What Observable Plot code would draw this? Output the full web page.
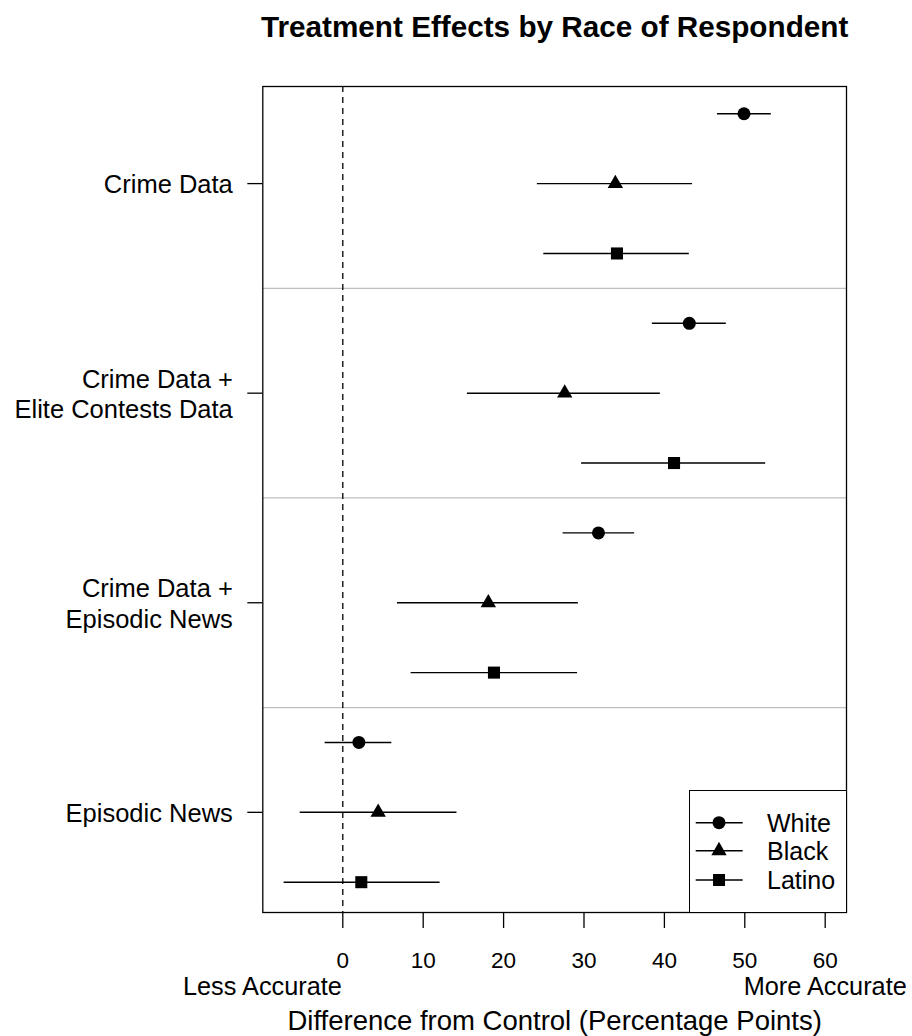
<!DOCTYPE html>
<html>
<head>
<meta charset="utf-8">
<script src="https://cdn.jsdelivr.net/npm/d3@7"></script>
<script src="https://cdn.jsdelivr.net/npm/@observablehq/plot@0.6"></script>
<style>
  html, body { margin: 0; padding: 0; background: #fff; }
  #wrap { position: relative; width: 912px; height: 1036px; font-family: "Liberation Sans", Arial, Helvetica, sans-serif; }
  #legend { position: absolute; box-sizing: border-box; background: #fff; border: 1.3px solid #000; }
</style>
</head>
<body>
<div id="wrap"></div>
<script>
// ---- data ----
const groups = ["Crime Data", "Crime Data +\nElite Contests Data", "Crime Data +\nEpisodic News", "Episodic News"];
const races = ["White", "Black", "Latino"];
const raceSymbols = ["circle", "triangle", "square"];
const whiteEst = [49.9, 43.1, 31.8, 2.0];
const whiteLo  = [46.6, 38.5, 27.4, -2.2];
const whiteHi  = [53.3, 47.7, 36.3, 6.1];
const blackEst = [33.9, 27.6, 18.1, 4.4];
const blackLo  = [24.2, 15.5, 6.8, -5.3];
const blackHi  = [43.5, 39.5, 29.3, 14.2];
const latinoEst = [34.1, 41.2, 18.8, 2.3];
const latinoLo  = [25.0, 29.7, 8.5, -7.3];
const latinoHi  = [43.1, 52.6, 29.2, 12.1];
const xTicks = [0, 10, 20, 30, 40, 50, 60];
const accuracyLabels = ["Less Accurate", "More Accurate"];
const accuracyAt = [-10, 60];
const title = "Treatment Effects by Race of Respondent";
const xLabel = "Difference from Control (Percentage Points)";

// ---- build rows ----
const est = [whiteEst, blackEst, latinoEst];
const lo = [whiteLo, blackLo, latinoLo];
const hi = [whiteHi, blackHi, latinoHi];
const rows = [];
groups.forEach((g, gi) => {
  races.forEach((r, ri) => {
    rows.push({group: g, race: r, symbol: raceSymbols[ri], pos: gi * 3 + ri + 1,
               est: est[ri][gi], lo: lo[ri][gi], hi: hi[ri][gi]});
  });
});
const groupPos = groups.map((g, gi) => gi * 3 + 2);
const separators = groups.slice(1).map((g, i) => (i + 1) * 3 + 0.5);
const symR = {circle: 6.5, triangle: 5.7, square: 6.8};

const FONT = "Liberation Sans, Arial, Helvetica, sans-serif";
const W = 912, H = 1036;
const mTop = 86, mBottom = 124, mLeft = 262.3, mRight = 66;

const chart = Plot.plot({
  width: W, height: H,
  marginTop: mTop, marginBottom: mBottom, marginLeft: mLeft, marginRight: mRight,
  style: {fontFamily: FONT, background: "#fff", color: "#000"},
  x: {domain: [-9.95, 62.65]},
  y: {domain: [0.61, 12.434], reverse: true},
  marks: [
    Plot.ruleY(separators, {stroke: "#bebebe", strokeWidth: 1.3}),
    Plot.ruleX([0], {stroke: "#000", strokeWidth: 1.3, strokeDasharray: "6,5"}),
    Plot.ruleY(rows, {y: "pos", x1: "lo", x2: "hi", stroke: "#000", strokeWidth: 1.4}),
    ...raceSymbols.map(s => Plot.dot(rows.filter(d => d.symbol === s),
      {x: "est", y: "pos", symbol: s, r: symR[s], fill: "#000", stroke: "none"})),
    Plot.frame({stroke: "#000", strokeWidth: 1.3}),
    Plot.axisX({ticks: xTicks, tickSize: 16, tickPadding: 23.5, fontSize: 22.5, strokeWidth: 1.3, label: null}),
    Plot.axisY({ticks: groupPos, tickSize: 15, tickPadding: 15, fontSize: 25.5, lineHeight: 1.2,
                strokeWidth: 1.3, tickFormat: d => groups[(d - 2) / 3], label: null}),
    Plot.text(accuracyLabels, {x: (d, i) => accuracyAt[i], text: d => d, frameAnchor: "bottom",
                lineAnchor: "top", dy: 64.5, fontSize: 25.3, fill: "#000"}),
    Plot.text([xLabel], {frameAnchor: "bottom", lineAnchor: "top", dy: 98, fontSize: 27.5, fill: "#000"}),
    Plot.text([title], {frameAnchor: "top", lineAnchor: "top", dy: -71, fontSize: 29.7, fontWeight: "bold", fill: "#000"})
  ]
});
const wrap = document.getElementById("wrap");
wrap.appendChild(chart);

// ---- legend ----
const legend = document.createElement("div");
legend.id = "legend";
const lgLeft = 689, lgTop = 790, lgRight = W - mRight, lgBottom = H - mBottom;
Object.assign(legend.style, {left: lgLeft + "px", top: lgTop + "px",
  width: (lgRight - lgLeft + 0.7) + "px", height: (lgBottom - lgTop + 0.7) + "px"});
wrap.appendChild(legend);
const lsvg = d3.select(legend).append("svg")
  .attr("width", lgRight - lgLeft).attr("height", lgBottom - lgTop)
  .style("position", "absolute").style("left", "-1.3px").style("top", "-1.3px").style("overflow", "visible");
const symMap = {circle: d3.symbolCircle, triangle: d3.symbolTriangle, square: d3.symbolSquare};
const entryY = [32.7, 60.7, 90];
races.forEach((r, i) => {
  const g = lsvg.append("g").attr("transform", `translate(0,${entryY[i]})`);
  g.append("line").attr("x1", 6.7).attr("x2", 53.7).attr("y1", 0).attr("y2", 0)
    .attr("stroke", "#000").attr("stroke-width", 1.4);
  const s = raceSymbols[i];
  g.append("path").attr("transform", "translate(30,0)")
    .attr("d", d3.symbol(symMap[s], Math.PI * symR[s] * symR[s])()).attr("fill", "#000");
  g.append("text").attr("x", 78).attr("y", 0).attr("dy", "0.36em")
    .attr("font-family", FONT).attr("font-size", 25).attr("fill", "#000").text(r);
});
</script>
</body>
</html>
